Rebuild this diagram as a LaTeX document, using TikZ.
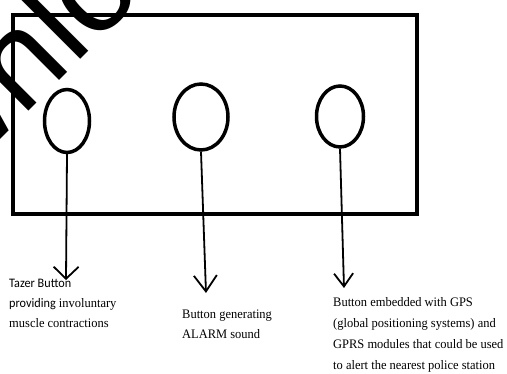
\documentclass[tikz,border=0pt]{standalone}
\usepackage{fontspec}
\newfontfamily\mytimes[FakeStretch=0.96]{Liberation Serif}
\newfontfamily\mycalib[FakeStretch=0.94]{Carlito}
\newfontfamily\mysans{Liberation Sans}
\usetikzlibrary{arrows.meta,shapes.geometric}
\begin{document}
\begin{tikzpicture}[x=1pt,y=1pt,
  btn/.style={draw, ellipse, line width=3.5pt, inner sep=0pt},
  link/.style={line width=1.8pt},
  lbl/.style={anchor=base west, inner sep=0pt, font=\fontsize{13}{21}\selectfont\mytimes},
  wmark/.style={rotate=45, anchor=base west, inner sep=0pt, font=\fontsize{130}{130}\selectfont\mysans}]
\useasboundingbox (0,0) rectangle (507,374);
\clip (0,0) rectangle (507,374);
% device
\node[draw, line width=4.5pt, minimum width=404pt, minimum height=199pt, inner sep=0pt] (box) at (215,259.5) {};
\node[btn, minimum width=45pt, minimum height=63pt] (b1) at (67,253) {};
\node[btn, minimum width=54pt, minimum height=66pt] (b2) at (201,257) {};
\node[btn, minimum width=47pt, minimum height=61pt] (b3) at (340,257.5) {};
% arrow ends
\coordinate (t1) at (66,94);
\coordinate (t2) at (206,81);
\coordinate (t3) at (344,86);
\draw[link, -{Straight Barb[length=12pt,width=25pt]}] (b1.south) -- (t1);
\draw[link, -{Straight Barb[length=16pt,width=23pt]}] (b2.south) -- (t2);
\draw[link, -{Straight Barb[length=13pt,width=19pt]}] (b3.south) -- (t3);
% labels
\node[lbl] (l1a) at (9,86) {\mycalib Tazer Button};
\node[lbl] (l1b) at (9,66) {{\mycalib providing} involuntary};
\node[lbl] (l1c) at (9,46) {muscle contractions};
\node[lbl] (l2a) at (182,55) {Button generating};
\node[lbl] (l2b) at (182,35) {ALARM sound};
\node[lbl] (l3a) at (333,67) {Button embedded with GPS};
\node[lbl] (l3b) at (333,46) {(global positioning systems) and};
\node[lbl] (l3c) at (333,25) {GPRS modules that could be used};
\node[lbl] (l3d) at (333,4) {to alert the nearest police station};
% watermark
\node[wmark] (wm) at (-161,73) {Download};
\end{tikzpicture}
\end{document}
